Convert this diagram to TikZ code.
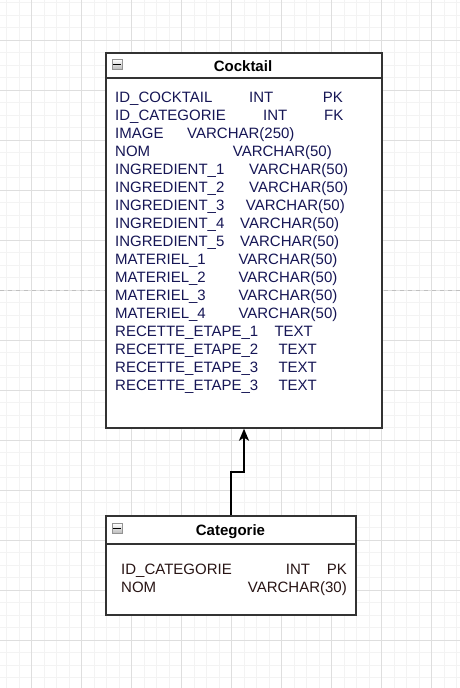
\documentclass[tikz,border=0pt]{standalone}
\usepackage{fontspec}
\setmainfont{Liberation Sans}
\usetikzlibrary{arrows.meta}
\definecolor{gridminor}{RGB}{243,243,243}
\definecolor{gridmajor}{RGB}{222,222,222}
\definecolor{pagebreak}{RGB}{192,192,192}
\definecolor{boxline}{RGB}{51,51,51}
\definecolor{ckText}{RGB}{22,22,85}
\definecolor{catText}{RGB}{40,20,20}
\tikzset{
  tablebox/.style={draw=boxline, line width=1.4pt, fill=white, rectangle, inner sep=0pt},
  fieldtext/.style={anchor=base west, inner sep=0pt, font=\fontsize{15}{18}\selectfont, text=ckText},
  catfield/.style={fieldtext, text=catText},
  titletext/.style={anchor=base, inner sep=0pt, font=\fontsize{15}{18}\selectfont\bfseries, text=black},
  minusicon/.style={rectangle, draw=gray!85, top color=white, bottom color=gray!55, minimum width=10pt, minimum height=10pt, inner sep=0pt, line width=0.7pt},
  linkline/.style={draw=black, line width=1.4pt, -{Stealth[length=12pt,width=10pt,inset=3pt]}}
}
\begin{document}
\begin{tikzpicture}[x=1pt,y=-1pt]
\useasboundingbox (0,0) rectangle (460,688);
\fill[white] (0,0) rectangle (460,688);
% grid
\foreach \i in {0,...,36} {\draw[gridminor, line width=0.8pt] ({6.7+12.5*\i},0) -- ({6.7+12.5*\i},688);}
\foreach \i in {0,...,55} {\draw[gridminor, line width=0.8pt] (0,{2.5+12.5*\i}) -- (460,{2.5+12.5*\i});}
\foreach \i in {0,...,8} {\draw[gridmajor, line width=0.9pt] ({31.7+50*\i},0) -- ({31.7+50*\i},688);}
\foreach \i in {0,...,13} {\draw[gridmajor, line width=0.9pt] (0,{40+50*\i}) -- (460,{40+50*\i});}
% page break line
\draw[pagebreak, line width=0.9pt, dash pattern=on 4pt off 4pt] (0,290.5) -- (460,290.5);

% Cocktail table
\node[tablebox, minimum width=276pt, minimum height=375pt] (ck) at (244,240.5) {};
\draw[boxline, line width=1.4pt] (ck.west |- 0,78) -- (ck.east |- 0,78);
\node[minusicon] (ckicon) at (117,64.5) {};
\draw[black, line width=1.6pt] ([xshift=1.5pt]ckicon.west) -- ([xshift=-1.5pt]ckicon.east);
\node[titletext] (cktitle) at (243,71) {Cocktail};

\node[fieldtext] (c1a) at (115,102) {ID\_COCKTAIL};
\node[fieldtext] (c1b) at (249,102) {INT};
\node[fieldtext] (c1c) at (322.7,102) {PK};
\node[fieldtext] (c2a) at (115,120) {ID\_CATEGORIE};
\node[fieldtext] (c2b) at (263,120) {INT};
\node[fieldtext] (c2c) at (324,120) {FK};
\node[fieldtext] (c3a) at (115,138) {IMAGE};
\node[fieldtext] (c3b) at (187,138) {VARCHAR(250)};
\node[fieldtext] (c4a) at (115,156) {NOM};
\node[fieldtext] (c4b) at (232.7,156) {VARCHAR(50)};
\node[fieldtext] (c5a) at (115,174) {INGREDIENT\_1};
\node[fieldtext] (c5b) at (249,174) {VARCHAR(50)};
\node[fieldtext] (c6a) at (115,192) {INGREDIENT\_2};
\node[fieldtext] (c6b) at (249,192) {VARCHAR(50)};
\node[fieldtext] (c7a) at (115,210) {INGREDIENT\_3};
\node[fieldtext] (c7b) at (245.7,210) {VARCHAR(50)};
\node[fieldtext] (c8a) at (115,228) {INGREDIENT\_4};
\node[fieldtext] (c8b) at (240,228) {VARCHAR(50)};
\node[fieldtext] (c9a) at (115,246) {INGREDIENT\_5};
\node[fieldtext] (c9b) at (240,246) {VARCHAR(50)};
\node[fieldtext] (c10a) at (115,264) {MATERIEL\_1};
\node[fieldtext] (c10b) at (238.3,264) {VARCHAR(50)};
\node[fieldtext] (c11a) at (115,282) {MATERIEL\_2};
\node[fieldtext] (c11b) at (238.3,282) {VARCHAR(50)};
\node[fieldtext] (c12a) at (115,300) {MATERIEL\_3};
\node[fieldtext] (c12b) at (238.3,300) {VARCHAR(50)};
\node[fieldtext] (c13a) at (115,318) {MATERIEL\_4};
\node[fieldtext] (c13b) at (238.3,318) {VARCHAR(50)};
\node[fieldtext] (c14a) at (115,336) {RECETTE\_ETAPE\_1};
\node[fieldtext] (c14b) at (274.3,336) {TEXT};
\node[fieldtext] (c15a) at (115,354) {RECETTE\_ETAPE\_2};
\node[fieldtext] (c15b) at (278.3,354) {TEXT};
\node[fieldtext] (c16a) at (115,372) {RECETTE\_ETAPE\_3};
\node[fieldtext] (c16b) at (278.3,372) {TEXT};
\node[fieldtext] (c17a) at (115,390) {RECETTE\_ETAPE\_3};
\node[fieldtext] (c17b) at (278.3,390) {TEXT};

% Categorie table
\node[tablebox, minimum width=250pt, minimum height=99pt] (cat) at (231,565.5) {};
\draw[boxline, line width=1.4pt] (cat.west |- 0,544) -- (cat.east |- 0,544);
\node[minusicon] (caticon) at (117,528.5) {};
\draw[black, line width=1.6pt] ([xshift=1.5pt]caticon.west) -- ([xshift=-1.5pt]caticon.east);
\node[titletext] (cattitle) at (230.5,535) {Categorie};
\node[catfield] (k1a) at (121,574) {ID\_CATEGORIE};
\node[catfield] (k1b) at (285.7,574) {INT};
\node[catfield] (k1c) at (326.7,574) {PK};
\node[catfield] (k2a) at (121,592) {NOM};
\node[catfield] (k2b) at (247.7,592) {VARCHAR(30)};

% connector
\coordinate (bend) at (0,472);
\draw[linkline] (cat.north) -- (cat.north |- bend) -- (ck.south |- bend) -- (ck.south);
\end{tikzpicture}
\end{document}
